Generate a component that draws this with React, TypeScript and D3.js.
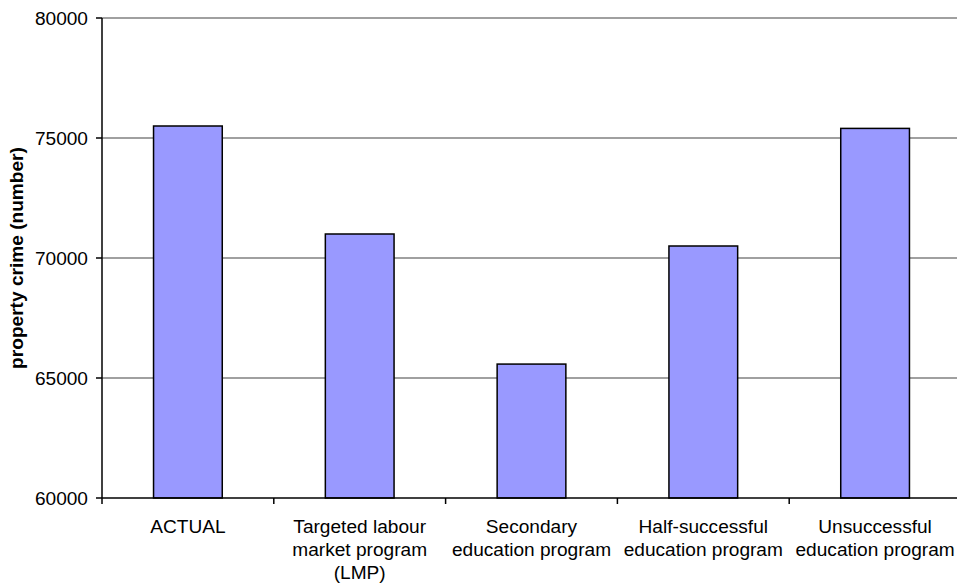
import React from "react";
import * as d3 from "d3";

// Property crime under each scenario
const categories: string[][] = [
  ["ACTUAL"],
  ["Targeted labour", "market program", "(LMP)"],
  ["Secondary", "education program"],
  ["Half-successful", "education program"],
  ["Unsuccessful", "education program"],
];
const values: number[] = [75500, 71000, 65580, 70500, 75400];
const yTicks: number[] = [60000, 65000, 70000, 75000, 80000];
const yTitle = "property crime (number)";

const W = 957;
const H = 584;
const left = 102;
const right = 961;
const top = 18;
const bottom = 498;
const font = "'Liberation Sans', Arial, sans-serif";
const fs = 19.1;

export default function App() {
  const keys = categories.map((c) => c.join(" "));
  const x = d3.scaleBand<string>().domain(keys).range([left, right]).padding(0);
  const y = d3.scaleLinear().domain([60000, 80000]).range([bottom, top]);
  const bw = x.bandwidth() * 0.4;

  return (
    <svg
      width={W}
      height={H}
      style={{ position: "absolute", left: 0, top: 0, background: "#fff" }}
    >
      {/* horizontal gridlines */}
      {yTicks.slice(1).map((t) => (
        <line key={"g" + t} x1={left} x2={W} y1={y(t)} y2={y(t)} stroke="#808080" strokeWidth={1.5} />
      ))}

      {/* bars */}
      {values.map((v, i) => {
        const cx = (x(keys[i]) as number) + x.bandwidth() / 2;
        return (
          <rect
            key={"b" + i}
            x={cx - bw / 2}
            y={y(v)}
            width={bw}
            height={y(60000) - y(v)}
            fill="#9999FF"
            stroke="#000"
            strokeWidth={1.5}
          />
        );
      })}

      {/* axes */}
      <line x1={left} x2={left} y1={top} y2={bottom} stroke="#000" strokeWidth={1.5} />
      <line x1={left} x2={W} y1={bottom} y2={bottom} stroke="#000" strokeWidth={1.5} />
      {yTicks.map((t) => (
        <g key={"t" + t}>
          <line x1={left - 6} x2={left} y1={y(t)} y2={y(t)} stroke="#000" strokeWidth={1.5} />
          <text
            x={left - 14}
            y={y(t)}
            dy="0.35em"
            textAnchor="end"
            fontFamily={font}
            fontSize={fs}
            fill="#000"
          >
            {t}
          </text>
        </g>
      ))}
      {keys.map((k, i) => (
        <line
          key={"xt" + i}
          x1={x(k) as number}
          x2={x(k) as number}
          y1={bottom}
          y2={bottom + 6}
          stroke="#000"
          strokeWidth={1.5}
        />
      ))}

      {/* category labels */}
      {categories.map((lines, i) => {
        const cx = (x(keys[i]) as number) + x.bandwidth() / 2;
        return (
          <text key={"l" + i} textAnchor="middle" fontFamily={font} fontSize={fs} fill="#000">
            {lines.map((ln, j) => (
              <tspan key={j} x={cx} y={532.5 + j * 23.4}>
                {ln}
              </tspan>
            ))}
          </text>
        );
      })}

      {/* y axis title */}
      <text
        transform={`translate(23, ${(top + bottom) / 2}) rotate(-90)`}
        textAnchor="middle"
        fontFamily={font}
        fontSize={fs}
        fontWeight="bold"
        fill="#000"
      >
        {yTitle}
      </text>
    </svg>
  );
}
